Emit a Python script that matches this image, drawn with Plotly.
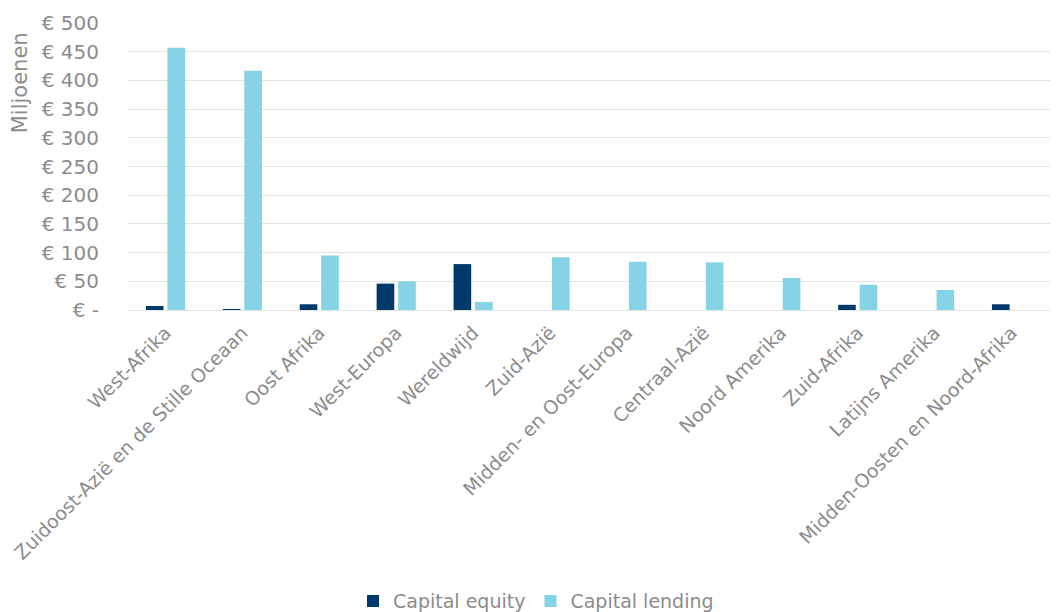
import plotly.graph_objects as go

regions = ["West-Afrika", "Zuidoost-Azië en de Stille Oceaan", "Oost Afrika", "West-Europa",
           "Wereldwijd", "Zuid-Azië", "Midden- en Oost-Europa", "Centraal-Azië",
           "Noord Amerika", "Zuid-Afrika", "Latijns Amerika", "Midden-Oosten en Noord-Afrika"]
capital_equity = [7, 1.5, 10, 46, 80, 0, 0, 0, 0, 9, 0, 10]
capital_lending = [457, 417, 95, 50, 14, 92, 84, 83, 56, 44, 35, 0]
tick_values = [0, 50, 100, 150, 200, 250, 300, 350, 400, 450, 500]
tick_labels = ["€ -"] + [f"€ {v}" for v in tick_values[1:]]

GREY = "#8c8c8c"
FONT = "DejaVu Sans"

fig = go.Figure()
fig.add_trace(go.Bar(x=regions, y=capital_equity, name="Capital equity",
                     marker=dict(color="#003a6b", line=dict(width=0))))
fig.add_trace(go.Bar(x=regions, y=capital_lending, name="Capital lending",
                     marker=dict(color="#85d3e4", line=dict(width=0))))

# page body adds an 8px margin, so the figure is 8px smaller and shifted
fig.update_layout(
    width=1056, height=604,
    barmode="group", bargap=0.44, bargroupgap=0.18,
    plot_bgcolor="white", paper_bgcolor="white",
    font=dict(family=FONT, color=GREY, size=19),
    margin=dict(l=119, r=14, t=15, b=302, autoexpand=False),
    showlegend=True,
    legend=dict(orientation="h", xref="container", yref="container",
                x=0.5, xanchor="center", y=0.018, yanchor="middle",
                font=dict(size=19, color=GREY), itemwidth=30, traceorder="normal"),
    xaxis=dict(tickangle=-45, showgrid=False, ticks="", showline=False, automargin=False,
               tickfont=dict(size=19, color=GREY), ticklabelstandoff=7),
    yaxis=dict(range=[0, 500], tickvals=tick_values, ticktext=tick_labels, automargin=False,
               showgrid=True, gridcolor="#e3e3e3", gridwidth=1.3, zeroline=True,
               zerolinecolor="#e3e3e3", zerolinewidth=1.3,
               ticks="", tickfont=dict(size=20, color=GREY), ticklabelstandoff=27),
)
fig.add_annotation(text="Miljoenen", textangle=-90, xref="paper", yref="paper",
                   x=-0.116, y=0.976, xanchor="center", yanchor="top", showarrow=False,
                   font=dict(size=21, color=GREY, family=FONT))

fig.write_html("out.html")
